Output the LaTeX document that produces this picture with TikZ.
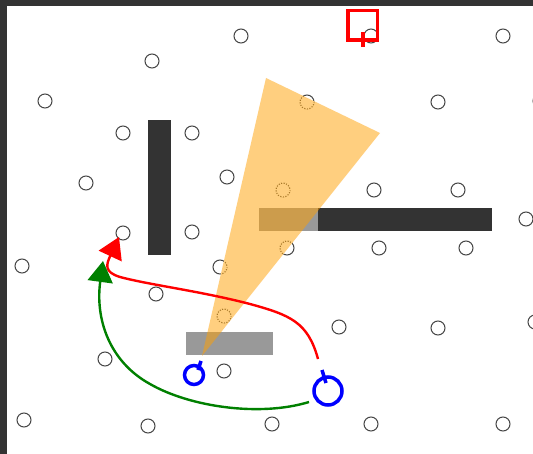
\documentclass[tikz,border=0pt]{standalone}
\usetikzlibrary{arrows.meta}
\definecolor{framegray}{RGB}{51,51,51}
\definecolor{wallgray}{RGB}{51,51,51}
\definecolor{lightgray}{RGB}{153,153,153}
\definecolor{lmgray}{RGB}{70,70,70}
\definecolor{conecol}{RGB}{255,160,0}
\definecolor{pathgreen}{RGB}{0,128,0}
\begin{document}
\begin{tikzpicture}[x=1pt,y=-1pt,
  landmark/.style={circle,draw=lmgray,line width=1pt,minimum size=14pt,inner sep=0pt},
  wall/.style={fill=wallgray},
  lightwall/.style={fill=lightgray},
  robot/.style={circle,draw=blue,line width=3.5pt,inner sep=0pt},
  heading/.style={draw=blue,line width=3.5pt},
  goalbox/.style={draw=red,line width=3.5pt,minimum size=29.5pt,inner sep=0pt},
  fov/.style={fill=conecol,fill opacity=0.5},
  redpath/.style={draw=red,line width=2.4pt,-{Triangle[length=21pt,width=25pt]}},
  greenpath/.style={draw=pathgreen,line width=2.4pt,-{Triangle[length=21pt,width=25pt]}}]
\useasboundingbox (0,0) rectangle (533,454);
\clip (0,0) rectangle (533,454);
\fill[white] (0,0) rectangle (533,454);
\fill[framegray] (0,0) rectangle (533,6);
\fill[framegray] (0,0) rectangle (7,454);
% landmarks
\foreach \x/\y [count=\i] in {45/101,152/61,241/36,371/36,503/36,307/102,438/102,540/101,123/133,192/133,86/183,227/177,283/190,374/190,458/190,526/219,123/233,192/232,287/248,379/248,466/248,22/266,220/267,156/294,224/316,339/327,438/328,535/322,105/359,224/371,24/420,148/426,272/424,371/424,503/424}
  \node[landmark] (c\i) at (\x,\y) {};
% dotted look of the landmarks under the field of view
\begin{scope}
  \clip (202,356) -- (266,78) -- (380,133) -- cycle;
  \foreach \i in {1,...,35}
    \draw[white,line width=1.8pt,dash pattern=on 1.3pt off 1.3pt] (c\i.center) circle (7pt);
\end{scope}
% walls
\fill[wall] (148,120) rectangle (171,255);
\fill[lightwall] (259,208) rectangle (318,231);
\fill[wall] (318,208) rectangle (492,231);
\fill[lightwall] (186,332) rectangle (273,355);
% field of view
\coordinate (apex) at (202,356);
\coordinate (fa) at (266,78);
\coordinate (fb) at (380,133);
\fill[fov] (apex) -- (fa) -- (fb) -- cycle;
% goal
\node[goalbox] (goal) at (362.5,25.5) {};
\coordinate (goaltick) at (363,47);
\draw[red,line width=3.5pt] (363,32) -- (goaltick);
% robots
\node[robot,minimum size=19pt] (r1) at (194,375) {};
\node[robot,minimum size=28pt] (r2) at (328,391) {};
\coordinate (r1h) at (201,361);
\coordinate (r2h) at (322,370);
\draw[heading] (198,370) -- (r1h);
\draw[heading] (326,383) -- (r2h);
% paths
\coordinate (rs) at (318,359);
\coordinate (rt) at (119,237);
\coordinate (gs) at (309,402);
\coordinate (gt) at (103,261);
\draw[redpath] (rs) .. controls (308,322) and (290,315) .. (250,304)
  .. controls (200,291) and (150,285) .. (120,277)
  .. controls (104,272) and (106,265) .. (rt);
\draw[greenpath] (gs) .. controls (260,417) and (190,407) .. (150,384)
  .. controls (110,362) and (95,320) .. (gt);
\end{tikzpicture}
\end{document}
